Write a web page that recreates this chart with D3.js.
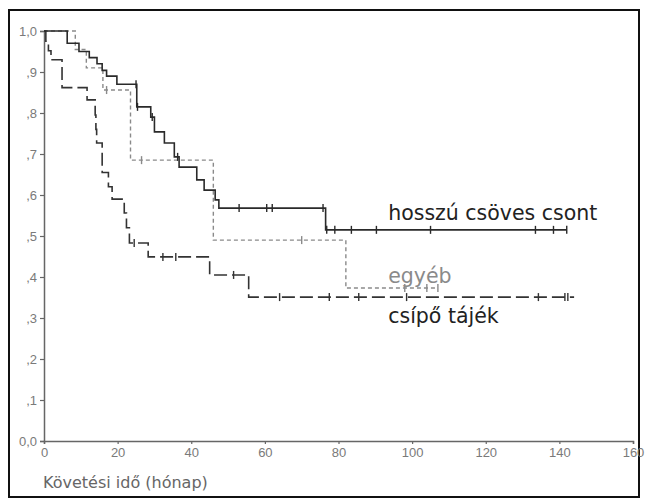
<!DOCTYPE html>
<html lang="hu">
<head>
<meta charset="utf-8">
<script src="https://d3js.org/d3.v7.min.js"></script>
<style>
  body { margin: 0; background: #fff; }
  svg { display: block; font-family: "DejaVu Sans", Verdana, sans-serif; }
</style>
</head>
<body>
<div id="chart"></div>
<script>
// Kaplan-Meier curves: step times (months) and survival after each step
var hosszuTimes = [0, 6.3, 9.5, 12.3, 14.4, 15.8, 17, 19.8, 25.2, 29, 30, 32.7, 35.4, 36.7, 41.5, 43.5, 46.5, 47.5, 76.5];
var hosszuSurv  = [1, .97, .95, .935, .92, .904, .89, .87, .815, .79, .754, .727, .693, .668, .637, .612, .588, .568, .515];
var hosszuEnd   = 142;
var hosszuCens  = [25, 25.4, 29.4, 36.3, 53, 60.5, 62, 75.8, 76.8, 79, 83.5, 90.3, 105, 133.5, 138.4, 142];

var csipoTimes = [0, 0.5, 1.2, 1.9, 4.9, 11.7, 13.9, 14.1, 14.3, 15.8, 17.5, 18.5, 21.8, 22.4, 23.2, 28.3, 45, 55.6];
var csipoSurv  = [1, .975, .952, .93, .862, .832, .795, .76, .727, .655, .62, .59, .556, .52, .483, .449, .405, .351];
var csipoEnd   = 144;
var csipoCens  = [24.5, 32.3, 35.8, 51.5, 64, 77.5, 85.5, 98.5, 134.3, 141.5, 142.3];

var egyebTimes = [0, 8.5, 11.5, 16, 23.5, 46, 82];
var egyebSurv  = [1, .955, .91, .856, .685, .49, .373];
var egyebEnd   = 107;
var egyebCens  = [17, 26.5, 70, 98, 104, 107];

var xTicks = [0, 20, 40, 60, 80, 100, 120, 140, 160];
var yTicks = [0, .1, .2, .3, .4, .5, .6, .7, .8, .9, 1];
var xTitle = "Követési idő (hónap)";

var W = 646, H = 503;
var svg = d3.select("#chart").append("svg")
    .attr("width", W)
    .attr("height", H);

// outer frame
svg.append("rect")
    .attr("x", 9).attr("y", 10)
    .attr("width", 630).attr("height", 487)
    .attr("fill", "none")
    .attr("stroke", "#111")
    .attr("stroke-width", 2);

var x = d3.scaleLinear().domain([0, 160]).range([44, 633]);
var y = d3.scaleLinear().domain([0, 1]).range([441, 31]);

var yAxis = svg.append("g")
    .attr("transform", "translate(44,0)")
    .call(d3.axisLeft(y).tickValues(yTicks).tickSize(4).tickPadding(3)
        .tickFormat(function(d) {
            if (d === 0) return "0,0";
            if (d === 1) return "1,0";
            return "," + Math.round(d * 10);
        }));

var xAxis = svg.append("g")
    .attr("transform", "translate(0,441)")
    .call(d3.axisBottom(x).tickValues(xTicks).tickSize(3).tickPadding(4)
        .tickFormat(d3.format("d")));

[yAxis, xAxis].forEach(function(g) {
    g.select(".domain").attr("stroke", "#666").attr("stroke-width", 1.5);
    g.selectAll(".tick line").attr("stroke", "#666").attr("stroke-width", 1.2);
    g.selectAll(".tick text").attr("fill", "#7a7a7a").style("font-size", "13px");
});

svg.append("text")
    .attr("x", 43)
    .attr("y", 488)
    .attr("fill", "#666")
    .style("font-size", "16px")
    .text(xTitle);

function stepPoints(times, surv, end) {
    var pts = times.map(function(t, i) { return [t, surv[i]]; });
    pts.push([end, surv[surv.length - 1]]);
    return pts;
}
function survAt(times, surv, t) {
    var s = surv[0];
    for (var i = 0; i < times.length; i++) if (times[i] <= t) s = surv[i];
    return s;
}

var line = d3.line()
    .x(function(d) { return x(d[0]); })
    .y(function(d) { return y(d[1]); })
    .curve(d3.curveStepAfter);

var series = [
    {times: egyebTimes, surv: egyebSurv, end: egyebEnd, cens: egyebCens, color: "#8a8a8a", width: 1.4, dash: "4,3"},
    {times: csipoTimes, surv: csipoSurv, end: csipoEnd, cens: csipoCens, color: "#333", width: 1.6, dash: "13,5"},
    {times: hosszuTimes, surv: hosszuSurv, end: hosszuEnd, cens: hosszuCens, color: "#2a2a2a", width: 1.6, dash: null}
];

series.forEach(function(s) {
    svg.append("path")
        .datum(stepPoints(s.times, s.surv, s.end))
        .attr("d", line)
        .attr("fill", "none")
        .attr("stroke", s.color)
        .attr("stroke-width", s.width)
        .attr("stroke-dasharray", s.dash);

    svg.append("g").selectAll("line")
        .data(s.cens)
        .enter().append("line")
        .attr("x1", function(t) { return x(t); })
        .attr("x2", function(t) { return x(t); })
        .attr("y1", function(t) { return y(survAt(s.times, s.surv, t)) - 4; })
        .attr("y2", function(t) { return y(survAt(s.times, s.surv, t)) + 4; })
        .attr("stroke", s.color)
        .attr("stroke-width", 1.4);
});

var labels = [
    {text: "hosszú csöves csont", t: 93.5, s: .538, color: "#222"},
    {text: "egyéb", t: 93.5, s: .385, color: "#8a8a8a"},
    {text: "csípő tájék", t: 93.5, s: .288, color: "#222"}
];
svg.append("g").selectAll("text")
    .data(labels)
    .enter().append("text")
    .attr("x", function(d) { return x(d.t); })
    .attr("y", function(d) { return y(d.s); })
    .attr("fill", function(d) { return d.color; })
    .style("font-size", "20.5px")
    .text(function(d) { return d.text; });
</script>
</body>
</html>
